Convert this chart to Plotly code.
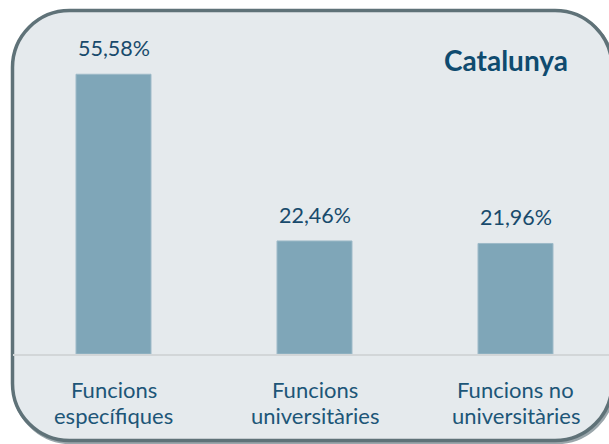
import plotly.graph_objects as go

categories = ["Funcions específiques", "Funcions universitàries", "Funcions no universitàries"]
label_line1 = ["Funcions", "Funcions", "Funcions no"]
label_line2 = ["específiques", "universitàries", "universitàries"]
values = [55.58, 22.46, 21.96]
value_text = ["55,58%", "22,46%", "21,96%"]
title = "Catalunya"

W, H = 609, 444
L, R, T, B = 13, 0, 52, 90
PW, PH = W - L - R, H - T - B


def px(x):
    return (x - L) / PW


def py(y):
    return (H - B - y) / PH


def rounded_path(x0, y0, x1, y1, r):
    k = 0.5523 * r
    pts = [
        ("M", [(x0 + r, y0)]),
        ("L", [(x1 - r, y0)]),
        ("C", [(x1 - r + k, y0), (x1, y0 + r - k), (x1, y0 + r)]),
        ("L", [(x1, y1 - r)]),
        ("C", [(x1, y1 - r + k), (x1 - r + k, y1), (x1 - r, y1)]),
        ("L", [(x0 + r, y1)]),
        ("C", [(x0 + r - k, y1), (x0, y1 - r + k), (x0, y1 - r)]),
        ("L", [(x0, y0 + r)]),
        ("C", [(x0, y0 + r - k), (x0 + r - k, y0), (x0 + r, y0)]),
    ]
    s = ""
    for cmd, ps in pts:
        s += cmd + " " + " ".join(f"{px(a):.5f},{py(b):.5f}" for a, b in ps) + " "
    return s + "Z"


x_idx = list(range(len(categories)))

fig = go.Figure()
fig.add_trace(go.Bar(
    x=x_idx, y=values, width=0.373,
    marker=dict(color="#7fa6b8", line=dict(color="#9dbac8", width=1)),
    hoverinfo="skip",
))

font_family = "Lato, Open Sans, sans-serif"
annotations = []
for i, (v, t) in enumerate(zip(values, value_text)):
    annotations.append(dict(x=i, y=v, xref="x", yref="y", text=t, showarrow=False,
                            yanchor="middle", yshift=26,
                            font=dict(family=font_family, size=21.5, color="#184a6c")))
for i, (a, b) in enumerate(zip(label_line1, label_line2)):
    annotations.append(dict(x=i, y=0, xref="x", yref="paper", text=a, showarrow=False,
                            yanchor="middle", yshift=-35,
                            font=dict(family=font_family, size=22, color="#1d5678")))
    annotations.append(dict(x=i, y=0, xref="x", yref="paper", text=b, showarrow=False,
                            yanchor="middle", yshift=-61,
                            font=dict(family=font_family, size=22, color="#1d5678")))
annotations.append(dict(x=px(505.5), y=py(60), xref="paper", yref="paper", text="<b>" + title + "</b>",
                        showarrow=False, xanchor="center", yanchor="middle",
                        font=dict(family=font_family, size=28, color="#0f4b6f")))

shapes = [
    dict(type="path", xref="paper", yref="paper", path=rounded_path(14, 12.5, 613.5, 442.5, 57),
         line=dict(color="#9aa6ab", width=3.5), fillcolor="rgba(0,0,0,0)", layer="below"),
    dict(type="path", xref="paper", yref="paper", path=rounded_path(12.5, 10.5, 612, 440.5, 57),
         line=dict(color="#5f7278", width=3.5), fillcolor="#e5eaed", layer="below"),
]

fig.update_layout(
    width=W, height=H,
    margin=dict(l=L, r=R, t=T, b=B, pad=0),
    paper_bgcolor="white", plot_bgcolor="rgba(0,0,0,0)",
    showlegend=False,
    annotations=annotations, shapes=shapes,
    xaxis=dict(range=[-0.5, 2.5 - 7 / 201], showticklabels=False, ticks="",
               showgrid=False, zeroline=False, showline=True, linecolor="#d2d6d8", linewidth=1.5,
               fixedrange=True),
    yaxis=dict(range=[0, 60], visible=False, showgrid=False, zeroline=False, fixedrange=True),
)

fig.write_html("out.html", config={"displayModeBar": False},
               post_script="document.body.style.margin='0';document.body.style.overflow='hidden';")
